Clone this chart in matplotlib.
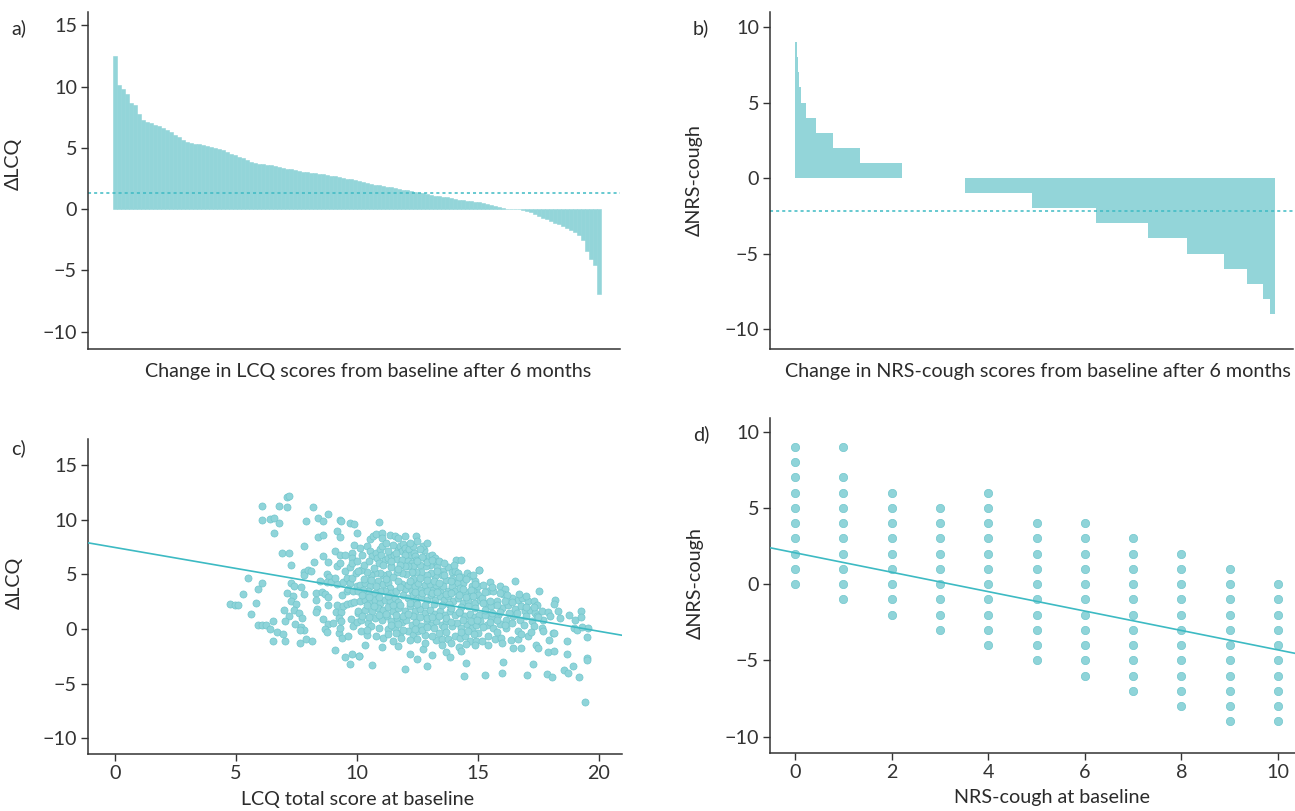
import matplotlib.pyplot as plt
import numpy as np

plt.rcParams['font.family'] = ['Lato', 'DejaVu Sans']
plt.rcParams['font.size'] = 14.2
plt.rcParams['text.color'] = '#2b2b2b'
plt.rcParams['axes.labelcolor'] = '#2b2b2b'
plt.rcParams['xtick.color'] = '#333333'
plt.rcParams['ytick.color'] = '#333333'

# --- data ---
# a) sorted change in LCQ, one value per slice of the waterfall
lcq_change_sorted = [
    12.5, 10.1, 9.85, 9.4, 8.7, 8.5, 7.8, 7.3, 7.15, 7.03,
    6.9, 6.77, 6.62, 6.45, 6.28, 6.08, 5.88, 5.68, 5.49, 5.42,
    5.35, 5.29, 5.24, 5.18, 5.11, 5.03, 4.91, 4.79, 4.66, 4.54,
    4.42, 4.29, 4.15, 4.01, 3.87, 3.77, 3.72, 3.68, 3.64, 3.57,
    3.51, 3.45, 3.38, 3.31, 3.25, 3.19, 3.13, 3.07, 3.02, 2.97,
    2.93, 2.89, 2.84, 2.79, 2.73, 2.67, 2.61, 2.55, 2.49, 2.43,
    2.37, 2.31, 2.22, 2.13, 2.05, 1.99, 1.93, 1.88, 1.83, 1.77,
    1.71, 1.65, 1.59, 1.53, 1.48, 1.42, 1.35, 1.28, 1.21, 1.16,
    1.10, 1.05, 1.00, 0.95, 0.88, 0.82, 0.77, 0.73, 0.68, 0.64,
    0.59, 0.55, 0.48, 0.41, 0.35, 0.29, 0.20, 0.10, 0.04, 0.03,
    0.02, 0.0, -0.08, -0.15, -0.25, -0.42, -0.60, -0.72, -0.83, -0.93,
    -1.10, -1.25, -1.39, -1.55, -1.72, -1.90, -2.15, -2.55, -3.40, -4.10,
    -4.60, -6.90,
]
lcq_mean_change = 1.3

# b) NRS-cough change: value and number of patients
nrs_change_values = [9, 8, 7, 6, 5, 4, 3, 2, 1, 0, -1, -2, -3, -4, -5, -6, -7, -8, -9]
nrs_change_counts = [3, 1, 2, 3, 7, 14, 24, 39, 60, 90, 96, 91, 74, 56, 53, 33, 23, 10, 7]
nrs_mean_change = -2.2

# c) LCQ baseline vs change
lcq_points = [
    (7.1, 12.1), (7.2, 12.2), (6.1, 11.3), (6.8, 11.3), (7.1, 11.2), (8.2, 11.2), (6.1, 10.0), (6.4, 10.1),
    (6.6, 10.2), (6.8, 9.7), (6.6, 8.8), (7.9, 9.9), (8.4, 10.2), (8.6, 9.9), (8.8, 10.5), (9.3, 10.0),
    (9.35, 9.9), (9.7, 9.7), (9.9, 9.6), (8.4, 8.4), (8.6, 8.6), (9.2, 9.0), (9.3, 8.4), (10.0, 8.8),
    (9.9, 7.7), (7.8, 7.6), (6.9, 7.0), (7.2, 7.0), (8.6, 6.7), (9.1, 7.1), (9.3, 6.8), (9.5, 6.8),
    (9.8, 7.0), (9.8, 6.5), (7.3, 5.9), (8.25, 6.1), (8.8, 6.1), (9.2, 5.8), (9.3, 6.0), (9.5, 5.3),
    (9.7, 5.7), (9.8, 6.0), (7.8, 5.2), (7.8, 4.9), (8.0, 5.4), (8.1, 5.3), (8.75, 5.0), (8.85, 4.8),
    (8.75, 4.3), (8.5, 4.4), (8.95, 4.3), (9.2, 4.1), (9.45, 4.3), (9.6, 4.7), (9.7, 4.2), (9.8, 4.7),
    (9.95, 5.1), (5.5, 4.7), (6.1, 4.2), (5.9, 3.7), (5.3, 3.2), (5.85, 2.4), (4.75, 2.3), (4.95, 2.2),
    (5.1, 2.2), (5.65, 1.4), (7.3, 4.2), (7.4, 3.9), (7.7, 3.8), (7.1, 3.3), (7.35, 3.0), (7.8, 3.2),
    (7.3, 2.6), (7.5, 2.3), (8.3, 3.3), (8.55, 3.4), (8.7, 3.2), (8.8, 2.9), (8.3, 2.7), (8.8, 2.2),
    (8.35, 1.8), (8.3, 1.6), (7.0, 1.7), (7.4, 1.7), (7.6, 1.5), (7.2, 1.2), (7.05, 0.7), (7.45, 0.5),
    (7.75, 1.0), (7.7, 0.15), (7.8, -0.1), (7.65, -0.05), (5.9, 0.4), (6.1, 0.4), (6.25, 0.4), (6.4, 0.0),
    (6.55, 0.7), (6.7, -0.25), (6.95, -0.5), (6.55, -1.1), (7.05, -1.1), (7.65, -1.25), (7.9, -0.95), (8.15, -1.1),
    (8.6, 0.95), (8.8, 0.45), (9.0, 0.55), (8.7, 0.0), (8.75, -0.25), (9.25, -0.35), (9.3, 0.05), (9.4, -0.8),
    (9.65, -0.6), (9.15, 1.6), (9.35, 1.6), (9.25, 1.05), (9.35, 0.7), (9.75, 0.95), (9.85, 0.25), (9.1, -1.9),
    (9.5, -2.6), (9.8, -2.3), (9.7, -3.2), (10.1, -2.5), (9.1, 4.7), (9.4, 3.15), (9.2, 2.2), (9.45, 2.1),
    (9.6, 2.3), (9.75, 2.4), (9.9, 2.5), (9.6, 3.45), (9.65, 3.7), (9.85, 3.45), (10.0, 3.9), (10.05, 1.5),
    (10.0, 0.65),
    (10.91, 9.78), (10.56, 8.26), (10.67, 8.5), (10.81, 8.71), (11.02, 8.81), (11.05, 8.35), (11.39, 8.65), (11.57, 8.5),
    (11.71, 8.29), (12.01, 8.5), (12.45, 8.5), (10.12, 7.43), (10.4, 7.58), (10.54, 7.12), (10.61, 6.67), (10.8, 6.97),
    (10.95, 7.28), (11.02, 7.58), (10.85, 6.51), (10.99, 6.82), (11.16, 6.36), (11.29, 6.51), (11.43, 5.75), (11.43, 6.76),
    (11.54, 6.82), (11.64, 6.45), (11.71, 7.28), (11.8, 7.58), (11.85, 7.12), (11.91, 7.74), (11.98, 7.43), (12.05, 6.97),
    (12.15, 7.28), (12.23, 6.82), (12.37, 6.97), (12.42, 6.67), (12.44, 6.36), (11.98, 6.76), (11.85, 6.36), (12.12, 6.27),
    (12.26, 6.05), (12.81, 6.51), (12.78, 7.22), (12.74, 7.58), (12.97, 6.67), (13.11, 6.82), (13.22, 6.51), (13.29, 6.11),
    (13.33, 5.66), (13.02, 5.9), (12.84, 5.75), (12.6, 5.9), (12.33, 5.75), (12.12, 5.75), (11.98, 5.75), (11.79, 5.9),
    (13.57, 5.35), (13.77, 5.66), (13.91, 5.23), (14.05, 5.35), (14.08, 6.36), (14.3, 6.36), (14.0, 5.9), (14.19, 5.14),
    (14.32, 4.74), (14.55, 5.14), (14.67, 4.83), (15.04, 5.44), (14.88, 4.37), (14.74, 3.91), (14.94, 3.52), (14.39, 4.22),
    (14.12, 4.22), (13.91, 4.62), (13.7, 4.52), (13.5, 4.98), (13.22, 4.83), (13.08, 5.14), (12.88, 4.98), (12.67, 5.23),
    (12.46, 5.23), (12.26, 5.23), (12.05, 5.05), (11.85, 5.14), (11.64, 5.23), (11.41, 5.66), (11.27, 5.05), (11.09, 4.92),
    (10.95, 5.14), (10.74, 5.14), (10.58, 4.98), (10.4, 5.23), (10.19, 5.44), (10.05, 5.29), (9.99, 6.21), (10.12, 4.07),
    (10.33, 4.22), (10.54, 3.91), (10.88, 4.37), (11.09, 4.13), (11.29, 4.22), (11.36, 3.76), (11.16, 3.52), (10.95, 3.45),
    (10.74, 3.3), (10.47, 3.52), (10.26, 3.61), (10.05, 3.52), (11.85, 4.13), (11.98, 3.7), (12.12, 4.07), (12.26, 3.52),
    (12.4, 3.91), (12.53, 4.22), (12.67, 3.61), (12.81, 4.07), (13.02, 4.13), (13.15, 3.61), (13.29, 4.07), (13.43, 3.52),
    (13.57, 3.91), (13.77, 3.52), (13.91, 3.91), (14.05, 3.45), (14.26, 3.76), (14.46, 3.39), (14.67, 3.0), (14.81, 3.45),
    (15.01, 3.15), (11.91, 3.15), (12.12, 2.84), (12.33, 3.15), (12.46, 2.69), (12.67, 3.0), (12.88, 2.69), (13.06, 3.15),
    (13.22, 2.69), (13.43, 3.0), (13.61, 2.69), (13.77, 3.0), (13.98, 2.54), (14.19, 2.84), (14.39, 2.38), (14.6, 2.54),
    (14.88, 2.38), (15.08, 2.69), (10.12, 2.54), (10.33, 2.69), (10.54, 2.48), (10.74, 2.69), (10.95, 2.38), (11.16, 2.69),
    (11.36, 2.54), (11.57, 2.84), (11.71, 2.48), (10.88, 1.93), (11.09, 1.77), (11.29, 1.99), (11.5, 1.62), (11.71, 1.93),
    (11.98, 1.68), (12.19, 2.08), (12.4, 1.62), (12.6, 1.86), (12.81, 1.47), (13.02, 1.77), (13.22, 1.37), (13.43, 1.68),
    (13.64, 1.31), (13.84, 1.62), (14.05, 1.25), (14.26, 1.47), (14.46, 1.16), (14.67, 1.37), (14.88, 1.07), (15.04, 1.31),
    (10.05, 1.62), (10.33, 1.77), (10.61, 1.62), (10.74, 1.01), (11.02, 0.85), (11.23, 1.16), (11.43, 0.7), (11.64, 1.01),
    (11.85, 0.64), (12.05, 0.85), (12.26, 0.4), (12.46, 0.64), (12.67, 0.24), (12.88, 0.7), (13.08, 0.4), (13.29, 0.76),
    (13.5, 0.4), (13.7, 0.7), (13.91, 0.24), (14.12, 0.55), (14.32, 0.09), (14.53, 0.46), (14.74, 0.09), (14.94, 0.4),
    (10.19, 0.85), (10.47, 0.55), (10.19, -0.21), (10.44, -0.52), (11.29, -0.03), (11.57, 0.09), (11.78, -0.37), (12.12, -0.21),
    (12.33, -0.58), (12.53, -0.21), (12.81, -0.52), (13.29, -0.98), (13.5, -0.89), (13.77, -0.89), (14.05, -0.67), (14.26, -0.83),
    (14.46, -0.67), (14.67, -1.07), (14.94, -1.13), (10.33, -1.5), (11.02, -1.68), (11.09, -0.83), (11.71, -1.59), (11.82, -0.83),
    (12.19, -2.29), (12.74, -1.81), (12.81, -1.29), (13.11, -2.42), (13.7, -2.11), (13.84, -2.6), (14.21, -1.68), (14.32, -2.05),
    (14.49, -3.12), (10.08, -2.51), (10.63, -3.33), (11.98, -3.67), (12.49, -2.78), (12.88, -3.43), (14.42, -4.28), (14.88, -1.44),
    (15.06, 5.44), (15.5, 4.31), (15.01, 3.91), (15.22, 4.07), (15.43, 3.52), (15.63, 3.45), (15.91, 3.91), (16.12, 3.7),
    (16.05, 3.21), (16.53, 4.37), (16.39, 2.84), (16.67, 2.69), (16.83, 2.84), (17.08, 2.54), (17.33, 2.6), (17.53, 3.52),
    (17.42, 2.23), (18.18, 2.69), (18.15, 2.29), (15.15, 2.84), (15.36, 2.38), (15.56, 2.08), (15.77, 2.54), (15.98, 1.93),
    (16.25, 2.23), (16.53, 1.86), (16.8, 2.08), (16.94, 1.62), (17.15, 1.77), (17.36, 1.47), (17.63, 1.62), (17.91, 1.56),
    (18.29, 1.62), (18.39, 1.01), (17.97, 1.16), (17.7, 0.85), (17.42, 1.16), (17.22, 0.7), (16.97, 1.16), (16.74, 0.85),
    (16.46, 1.16), (16.18, 0.85), (15.84, 1.31), (15.56, 1.01), (15.29, 1.31), (15.08, 0.7), (15.36, 0.4), (15.63, 0.09),
    (15.91, 0.46), (16.18, 0.09), (16.39, 0.55), (16.67, -0.21), (17.63, 0.09), (17.7, -0.15), (18.11, -0.37), (18.77, 1.25),
    (19.01, 0.85), (19.26, 1.68), (19.26, 1.07), (18.95, 0.09), (19.11, -0.12), (19.31, 0.15), (19.53, 0.09), (19.49, -0.77),
    (18.66, -1.13), (15.01, -0.37), (15.15, -1.13), (15.4, -1.5), (15.7, -0.89), (15.95, -0.83), (16.36, -1.04), (16.64, -0.92),
    (17.05, -0.67), (16.43, -1.78), (16.78, -1.72), (17.4, -1.5), (17.49, -1.74), (17.93, -1.04), (18.14, -0.4), (17.88, -2.08),
    (18.15, -2.05), (16.02, -3.06), (17.27, -3.18), (18.68, -2.33), (19.52, -2.66), (19.52, -2.81), (15.29, -4.22), (15.98, -4.07),
    (17.04, -4.22), (17.84, -4.1), (18.08, -4.44), (18.57, -3.73), (18.73, -4.04), (18.91, -3.37), (19.16, -4.38), (19.41, -6.73),
    # denser core of the cloud
    (10.2, 6.8), (10.3, 5.9), (10.5, 6.2), (10.7, 5.6), (10.9, 6.0), (10.3, 4.6), (10.6, 4.5), (10.8, 3.9),
    (10.2, 3.1), (10.5, 2.9), (10.9, 2.9), (10.4, 2.2), (10.7, 2.1), (10.2, 1.2), (10.5, 1.1), (10.9, 1.3),
    (10.6, 0.3), (10.9, 0.1), (10.4, -0.1), (10.8, -0.6), (11.2, 7.9), (11.5, 7.7), (11.3, 7.1), (11.6, 7.0),
    (11.1, 5.9), (11.4, 6.2), (11.7, 5.5), (11.2, 4.6), (11.5, 4.8), (11.7, 4.4), (11.4, 3.3), (11.6, 3.5),
    (11.8, 3.8), (11.3, 3.0), (11.5, 2.2), (11.8, 2.2), (11.2, 1.4), (11.6, 1.3), (11.9, 1.2), (11.4, 0.4),
    (11.7, 0.5), (11.3, -0.5), (11.6, -0.4), (11.9, -0.1), (11.5, -1.1), (12.3, 7.6), (12.6, 7.3), (12.9, 7.9),
    (12.5, 8.1), (12.2, 7.9), (12.7, 6.6), (12.5, 6.2), (12.9, 6.1), (12.3, 4.6), (12.6, 4.7), (12.9, 4.5),
    (12.2, 4.4), (12.4, 3.4), (12.7, 3.3), (12.9, 3.5), (12.2, 2.4), (12.5, 2.3), (12.8, 2.2), (12.3, 1.2),
    (12.6, 1.1), (12.9, 1.0), (12.1, 1.4), (12.4, 0.0), (12.7, -0.1), (12.9, 0.2), (12.5, -0.9), (12.2, -1.0),
    (13.1, 6.3), (13.4, 6.2), (13.6, 6.0), (13.3, 5.3), (13.6, 4.9), (13.9, 4.4), (13.2, 4.4), (13.4, 4.2),
    (13.1, 3.3), (13.3, 3.4), (13.7, 3.2), (13.9, 3.3), (13.2, 2.3), (13.5, 2.2), (13.8, 2.3), (13.1, 1.1),
    (13.4, 1.2), (13.7, 1.0), (13.9, 1.9), (13.2, 0.1), (13.6, 0.2), (13.9, 0.6), (13.4, -0.4), (13.7, -0.3),
    (13.1, -0.6), (13.9, -1.3), (13.5, -1.5), (14.2, 4.8), (14.5, 4.6), (14.8, 4.9), (14.4, 3.7), (14.7, 3.6),
    (14.9, 4.1), (14.2, 3.1), (14.5, 2.9), (14.8, 3.0), (14.3, 2.0), (14.6, 2.1), (14.9, 1.9), (14.2, 1.6),
    (14.4, 0.8), (14.7, 0.7), (14.95, 0.8), (14.3, -0.3), (14.6, -0.2), (14.85, -0.5), (14.5, -1.4), (15.3, 3.4),
    (15.6, 3.8), (15.9, 3.3), (16.2, 3.1), (15.2, 2.4), (15.5, 2.6), (15.8, 2.2), (16.1, 2.6), (16.4, 2.5),
    (15.3, 1.7), (15.6, 1.5), (15.9, 1.6), (16.3, 1.5), (15.2, 0.2), (15.5, 0.6), (15.8, 0.8), (16.1, 0.4),
    (15.4, -0.6), (15.8, -0.3), (16.0, -1.3), (16.7, 3.2), (17.0, 3.0), (16.6, 1.5), (17.0, 2.0), (17.3, 2.0),
    (16.9, 0.4), (17.3, 0.3), (17.5, 1.1), (16.8, -0.5), (17.2, -0.3),
]
lcq_fit = (7.47, -0.384)  # intercept, slope

# d) NRS-cough baseline vs change (distinct values shown)
nrs_points = {
    0: [9, 8, 7, 6, 5, 4, 3, 2, 1, 0],
    1: [9, 7, 6, 5, 4, 3, 2, 1, 0, -1],
    2: [6, 5, 4, 3, 2, 1, 0, -1, -2],
    3: [5, 4, 3, 2, 1, 0, -1, -2, -3],
    4: [6, 5, 4, 3, 2, 1, 0, -1, -2, -3, -4],
    5: [4, 3, 2, 1, 0, -1, -2, -3, -4, -5],
    6: [4, 3, 2, 1, 0, -1, -2, -3, -4, -5, -6],
    7: [3, 2, 1, 0, -1, -2, -3, -4, -5, -6, -7],
    8: [2, 1, 0, -1, -2, -3, -4, -5, -6, -7, -8],
    9: [1, 0, -1, -2, -3, -4, -5, -6, -7, -8, -9],
    10: [0, -1, -2, -3, -4, -5, -6, -7, -8, -9],
}
nrs_fit = (2.06, -0.637)

bar_color = '#93d5d9'
line_color = '#3dbac3'
dot_face = '#8fd4d9'
dot_edge = '#72c7cd'
spine_color = '#333333'

W, H = 1295, 811
fig = plt.figure(figsize=(W / 100, H / 100), dpi=100)
ax_a = fig.add_axes([88 / W, 1 - 348.7 / H, 532 / W, 336.7 / H])
ax_b = fig.add_axes([770 / W, 1 - 348.7 / H, 523 / W, 336.7 / H])
ax_c = fig.add_axes([88 / W, 1 - 754 / H, 534 / W, 315 / H])
ax_d = fig.add_axes([770 / W, 1 - 752.7 / H, 525 / W, 334.7 / H])

for ax in (ax_a, ax_b, ax_c, ax_d):
    for side in ('top', 'right'):
        ax.spines[side].set_visible(False)
    for side in ('left', 'bottom'):
        ax.spines[side].set_color(spine_color)
        ax.spines[side].set_linewidth(1.1)
    ax.tick_params(length=5, width=1, pad=3, labelsize=14.2)

# a) waterfall LCQ
idx = np.arange(len(lcq_change_sorted))
ax_a.bar(idx, lcq_change_sorted, width=1.0, color=bar_color, edgecolor=bar_color, linewidth=0.4)
ax_a.axhline(lcq_mean_change, color=line_color, linestyle=(0, (2, 2)), linewidth=1.1)
ax_a.set_xlim(-6.75, 126.25)
ax_a.set_ylim(-11.4, 16.1)
ax_a.set_yticks([-10, -5, 0, 5, 10, 15])
ax_a.set_xticks([])
ax_a.set_ylabel('ΔLCQ')
ax_a.yaxis.set_label_coords(-0.125, 0.55)
ax_a.set_xlabel('Change in LCQ scores from baseline after 6 months')
ax_a.xaxis.label.set_va('center')
ax_a.xaxis.set_label_coords(0.526, -0.069)

# b) waterfall NRS-cough
starts = np.concatenate([[0], np.cumsum(nrs_change_counts)[:-1]])
ax_b.bar(starts, nrs_change_values, width=nrs_change_counts, align='edge',
         color=bar_color, linewidth=0)
ax_b.axhline(nrs_mean_change, color=line_color, linestyle=(0, (2, 2)), linewidth=1.1)
ax_b.set_xlim(-35.7, 711.4)
ax_b.set_ylim(-11.3, 11.0)
ax_b.set_yticks([-10, -5, 0, 5, 10])
ax_b.set_xticks([])
ax_b.set_ylabel('ΔNRS-cough')
ax_b.yaxis.set_label_coords(-0.128, 0.5)
ax_b.set_xlabel('Change in NRS-cough scores from baseline after 6 months')
ax_b.xaxis.label.set_va('center')
ax_b.xaxis.set_label_coords(0.512, -0.069)

# c) LCQ scatter
cx, cy = zip(*lcq_points)
ax_c.scatter(cx, cy, s=26, facecolor=dot_face, edgecolor=dot_edge, linewidth=0.5, zorder=2)
xlim_c = (-1.1, 20.95)
xs = np.array(xlim_c)
ax_c.plot(xs, lcq_fit[0] + lcq_fit[1] * xs, color=line_color, linewidth=1.2, zorder=3)
ax_c.set_xlim(*xlim_c)
ax_c.set_ylim(-11.45, 17.4)
ax_c.set_yticks([-10, -5, 0, 5, 10, 15])
ax_c.set_xticks([0, 5, 10, 15, 20])
ax_c.set_ylabel('ΔLCQ')
ax_c.yaxis.set_label_coords(-0.122, 0.543)
ax_c.set_xlabel('LCQ total score at baseline')
ax_c.xaxis.label.set_va('center')
ax_c.xaxis.set_label_coords(0.504, -0.146)

# d) NRS-cough scatter
dx = [b for b, vals in nrs_points.items() for _ in vals]
dy = [v for vals in nrs_points.values() for v in vals]
ax_d.scatter(dx, dy, s=36, facecolor=dot_face, edgecolor=dot_edge, linewidth=0.5, zorder=2)
xlim_d = (-0.52, 10.35)
xs = np.array(xlim_d)
ax_d.plot(xs, nrs_fit[0] + nrs_fit[1] * xs, color=line_color, linewidth=1.2, zorder=3)
ax_d.set_xlim(*xlim_d)
ax_d.set_ylim(-11.05, 10.9)
ax_d.set_yticks([-10, -5, 0, 5, 10])
ax_d.set_xticks([0, 2, 4, 6, 8, 10])
ax_d.set_ylabel('ΔNRS-cough')
ax_d.yaxis.set_label_coords(-0.126, 0.507)
ax_d.set_xlabel('NRS-cough at baseline')
ax_d.xaxis.label.set_va('center')
ax_d.xaxis.set_label_coords(0.537, -0.135)

# panel letters
for label, px, py in [('a)', 11, 28), ('b)', 693, 28), ('c)', 11, 448), ('d)', 693, 434)]:
    fig.text(px / W, 1 - py / H, label, ha='left', va='center', fontsize=14.2)

fig.savefig('out.png', dpi=100)
